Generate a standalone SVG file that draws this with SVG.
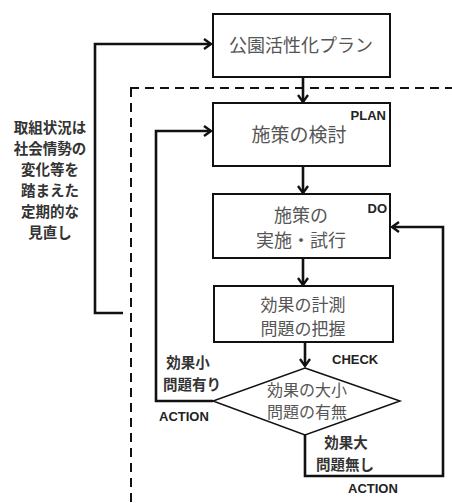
<svg xmlns="http://www.w3.org/2000/svg" width="452" height="503" viewBox="0 0 452 503">
<style>
.box{fill:#fff;stroke:#111;stroke-width:2}
.bt{font-family:"Noto Sans CJK JP","Noto Sans",sans-serif;font-size:18px;fill:#555;text-anchor:middle}
.dt{font-family:"Noto Sans CJK JP",sans-serif;font-size:16px;fill:#555;text-anchor:middle}
.lt{font-family:"Noto Sans CJK JP",sans-serif;font-size:14.5px;fill:#333;font-weight:bold;text-anchor:middle}
.tag{font-family:"Liberation Sans",Arial,sans-serif;font-size:13px;font-weight:bold;fill:#222}
.ln{fill:none;stroke:#111;stroke-width:2.6}
.dash{fill:none;stroke:#111;stroke-width:2;stroke-dasharray:9,6}
</style>
<defs>
<marker id="ah" markerWidth="12" markerHeight="12" refX="9" refY="6" orient="auto" markerUnits="userSpaceOnUse">
<path d="M2,1 L9,6 L2,11" fill="none" stroke="#111" stroke-width="2.4"/>
</marker>
</defs>
<g id="boundary">
<path class="dash" d="M130,88 H452"/>
<path class="dash" d="M131,88 V503"/>
</g>
<g id="connectors">
<path class="ln" d="M303,77 V102" marker-end="url(#ah)"/>
<path class="ln" d="M303,166 V193" marker-end="url(#ah)"/>
<path class="ln" d="M303,258 V285" marker-end="url(#ah)"/>
<path class="ln" d="M305,342 V366" marker-end="url(#ah)"/>
<path class="ln" d="M123,313 H95 V44 H211" marker-end="url(#ah)"/>
<path class="ln" d="M213,401 H156 V131 H211" marker-end="url(#ah)"/>
<path class="ln" d="M305,435 V476 H443 V227 H392" marker-end="url(#ah)"/>
</g>
<g id="plan-origin">
<rect class="box" x="213" y="14" width="177" height="63"/>
<text class="bt" x="301" y="52">公園活性化プラン</text>
</g>
<g id="plan">
<rect class="box" x="213" y="103" width="177" height="63"/>
<text class="bt" x="299" y="142" style="font-size:19px">施策の検討</text>
<text class="tag" x="386" y="120" text-anchor="end">PLAN</text>
</g>
<g id="do">
<rect class="box" x="213" y="194" width="177" height="64"/>
<text class="bt" x="301" y="222">施策の</text>
<text class="bt" x="301" y="247">実施・試行</text>
<text class="tag" x="387" y="213" text-anchor="end">DO</text>
</g>
<g id="check">
<rect class="box" x="214" y="286" width="179" height="56"/>
<text class="bt" x="303" y="311" style="font-size:17px">効果の計測</text>
<text class="bt" x="303" y="335" style="font-size:17px">問題の把握</text>
<text class="tag" x="332" y="364">CHECK</text>
</g>
<g id="decision">
<polygon class="box" style="stroke-width:1.5" points="305,368 400,401 305,435 213,401"/>
<text class="dt" x="307" y="396">効果の大小</text>
<text class="dt" x="307" y="418">問題の有無</text>
</g>
<g id="labels">
<text class="lt" x="50" y="133">取組状況は</text>
<text class="lt" x="50" y="154">社会情勢の</text>
<text class="lt" x="50" y="175">変化等を</text>
<text class="lt" x="50" y="196">踏まえた</text>
<text class="lt" x="50" y="217">定期的な</text>
<text class="lt" x="50" y="238">見直し</text>
<text class="lt" x="188" y="368">効果小</text>
<text class="lt" x="192" y="390">問題有り</text>
<text class="tag" x="159" y="421">ACTION</text>
<text class="lt" x="346" y="448">効果大</text>
<text class="lt" x="345" y="470">問題無し</text>
<text class="tag" x="348" y="493">ACTION</text>
</g>
</svg>
